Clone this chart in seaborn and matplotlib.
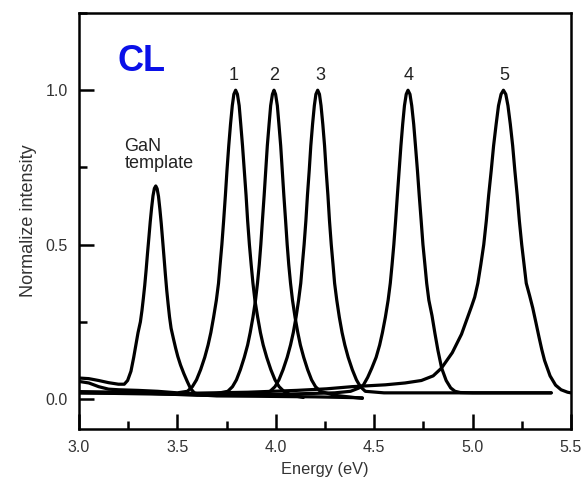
import numpy as np
import pandas as pd
import matplotlib
matplotlib.use("Agg")
import matplotlib.pyplot as plt
from matplotlib.ticker import MultipleLocator, FormatStrFormatter
import seaborn as sns

# ---- data ----
gan_E = [3.00, 3.05, 3.10, 3.15, 3.20, 3.23,
         3.247, 3.264, 3.278, 3.289, 3.300, 3.312, 3.320, 3.327, 3.334, 3.341, 3.348, 3.355, 3.362, 3.369,
         3.376, 3.383, 3.390,
         3.397, 3.404, 3.411, 3.418, 3.425, 3.432, 3.439, 3.446, 3.453, 3.460, 3.468, 3.480, 3.491, 3.502,
         3.516, 3.533, 3.550, 3.566, 3.586, 3.620, 3.700, 3.900, 4.200, 4.440]
gan_I = [0.068, 0.066, 0.060, 0.053, 0.048, 0.048,
         0.060, 0.090, 0.135, 0.175, 0.215, 0.250, 0.287, 0.326, 0.368, 0.417, 0.471, 0.522, 0.574, 0.619,
         0.658, 0.682, 0.690,
         0.681, 0.656, 0.615, 0.568, 0.514, 0.459, 0.403, 0.351, 0.307, 0.266, 0.229, 0.195, 0.165, 0.138,
         0.110, 0.082, 0.057, 0.035, 0.020, 0.013, 0.010, 0.009, 0.007, 0.004]

p1_E = [3.00, 3.05, 3.10, 3.15, 3.20, 3.30, 3.40, 3.50,
        3.551, 3.576, 3.597, 3.618, 3.639, 3.656, 3.670, 3.684, 3.698, 3.709, 3.717, 3.726, 3.735, 3.744,
        3.752, 3.761, 3.770, 3.779, 3.787, 3.796,
        3.805, 3.814, 3.822, 3.831, 3.840, 3.849, 3.857, 3.866, 3.875, 3.884, 3.894, 3.908, 3.922, 3.936,
        3.954, 3.975, 3.996, 4.017, 4.041, 4.080, 4.140]
p1_I = [0.057, 0.052, 0.040, 0.032, 0.030, 0.028, 0.025, 0.020,
        0.025, 0.040, 0.062, 0.095, 0.135, 0.175, 0.215, 0.265, 0.320, 0.375, 0.435, 0.500, 0.577, 0.660,
        0.740, 0.820, 0.890, 0.950, 0.987, 1.000,
        0.987, 0.950, 0.890, 0.820, 0.740, 0.660, 0.577, 0.500, 0.435, 0.375, 0.320, 0.265, 0.215, 0.175,
        0.135, 0.095, 0.062, 0.040, 0.025, 0.012, 0.005]

p2_E = [3.00, 3.20, 3.40, 3.60, 3.70,
        3.756, 3.780, 3.800, 3.820, 3.840, 3.857, 3.870, 3.884, 3.897, 3.907, 3.916, 3.924, 3.932, 3.941,
        3.949, 3.957, 3.966, 3.974, 3.983, 3.991,
        3.999, 4.008, 4.016, 4.025, 4.033, 4.041, 4.050, 4.058, 4.066, 4.075, 4.085, 4.098, 4.112, 4.125,
        4.142, 4.162, 4.182, 4.202, 4.226, 4.300, 4.440]
p2_I = [0.024, 0.022, 0.020, 0.015, 0.018,
        0.025, 0.040, 0.062, 0.095, 0.135, 0.175, 0.215, 0.265, 0.320, 0.375, 0.435, 0.500, 0.577, 0.660,
        0.740, 0.820, 0.890, 0.950, 0.987, 1.000,
        0.987, 0.950, 0.890, 0.820, 0.740, 0.660, 0.577, 0.500, 0.435, 0.375, 0.320, 0.265, 0.215, 0.175,
        0.135, 0.095, 0.062, 0.040, 0.025, 0.012, 0.002]

p3_E = [3.00, 3.30, 3.60, 3.80, 3.90,
        3.971, 3.996, 4.016, 4.037, 4.058, 4.075, 4.089, 4.103, 4.116, 4.127, 4.135, 4.144, 4.153, 4.161,
        4.170, 4.178, 4.187, 4.196, 4.204, 4.213,
        4.222, 4.230, 4.239, 4.248, 4.256, 4.265, 4.273, 4.282, 4.291, 4.299, 4.310, 4.323, 4.337, 4.351,
        4.368, 4.389, 4.410, 4.430, 4.455, 4.550, 4.800, 5.100, 5.400]
p3_I = [0.022, 0.020, 0.012, 0.012, 0.015,
        0.025, 0.040, 0.062, 0.095, 0.135, 0.175, 0.215, 0.265, 0.320, 0.375, 0.435, 0.500, 0.577, 0.660,
        0.740, 0.820, 0.890, 0.950, 0.987, 1.000,
        0.987, 0.950, 0.890, 0.820, 0.740, 0.660, 0.577, 0.500, 0.435, 0.375, 0.320, 0.265, 0.215, 0.175,
        0.135, 0.095, 0.062, 0.040, 0.025, 0.020, 0.020, 0.020, 0.020]

p4_E = [3.00, 3.50, 4.00, 4.30, 4.38,
        4.420, 4.445, 4.467, 4.488, 4.510, 4.528, 4.542, 4.557, 4.571, 4.582, 4.591, 4.600, 4.609, 4.618,
        4.627, 4.636, 4.645, 4.654, 4.663, 4.672,
        4.682, 4.691, 4.701, 4.710, 4.720, 4.729, 4.739, 4.748, 4.758, 4.767, 4.778, 4.794, 4.809, 4.824,
        4.843, 4.866, 4.889, 4.911, 4.938, 5.000, 5.200, 5.400]
p4_I = [0.020, 0.015, 0.015, 0.020, 0.025,
        0.035, 0.045, 0.070, 0.100, 0.135, 0.175, 0.215, 0.265, 0.320, 0.375, 0.435, 0.500, 0.577, 0.660,
        0.740, 0.820, 0.890, 0.950, 0.987, 1.000,
        0.987, 0.950, 0.890, 0.820, 0.740, 0.660, 0.577, 0.500, 0.435, 0.375, 0.320, 0.270, 0.212, 0.158,
        0.100, 0.060, 0.036, 0.025, 0.021, 0.020, 0.020, 0.020]

p5_E = [3.00, 3.50, 3.857, 4.107, 4.257, 4.387, 4.557, 4.657, 4.740, 4.800, 4.842, 4.897, 4.944, 4.978,
        4.995, 5.011, 5.027, 5.042, 5.057, 5.070, 5.082, 5.095, 5.107, 5.120, 5.132, 5.145, 5.157,
        5.169, 5.180, 5.192, 5.204, 5.215, 5.227, 5.238, 5.250, 5.262, 5.273, 5.290, 5.306, 5.322, 5.338,
        5.352, 5.366, 5.394, 5.422, 5.450, 5.483, 5.500]
p5_I = [0.020, 0.018, 0.022, 0.028, 0.033, 0.040, 0.046, 0.052, 0.060, 0.075, 0.100, 0.150, 0.210, 0.270,
        0.300, 0.330, 0.375, 0.435, 0.500, 0.577, 0.660, 0.740, 0.820, 0.890, 0.950, 0.987, 1.000,
        0.987, 0.950, 0.890, 0.820, 0.740, 0.660, 0.577, 0.500, 0.435, 0.375, 0.335, 0.295, 0.248, 0.200,
        0.160, 0.125, 0.075, 0.045, 0.030, 0.022, 0.020]

peak_labels = ["1", "2", "3", "4", "5"]
peak_label_E = [3.786, 3.99, 4.225, 4.673, 5.163]

series = {"GaN": (gan_E, gan_I), "1": (p1_E, p1_I), "2": (p2_E, p2_I),
          "3": (p3_E, p3_I), "4": (p4_E, p4_I), "5": (p5_E, p5_I)}
df = pd.concat([pd.DataFrame({"E": e, "I": i, "s": k}) for k, (e, i) in series.items()],
               ignore_index=True)

sns.set_theme(style="ticks")
plt.rcParams["font.family"] = ["Liberation Sans", "DejaVu Sans"]

fig = plt.figure(figsize=(5.87, 4.82), dpi=100)
ax = fig.add_axes([0.1346, 0.110, 0.838, 0.863])

sns.lineplot(data=df, x="E", y="I", units="s", estimator=None, sort=False,
             color="black", linewidth=2.3, ax=ax)

ax.set_xlim(3.0, 5.5)
ax.set_ylim(-0.097, 1.25)
ax.xaxis.set_major_locator(MultipleLocator(0.5))
ax.xaxis.set_minor_locator(MultipleLocator(0.25))
ax.yaxis.set_major_locator(MultipleLocator(0.5))
ax.yaxis.set_minor_locator(MultipleLocator(0.25))
ax.xaxis.set_major_formatter(FormatStrFormatter("%.1f"))
ax.yaxis.set_major_formatter(FormatStrFormatter("%.1f"))

for side in ["left", "right", "top", "bottom"]:
    ax.spines[side].set_linewidth(1.8)
    ax.spines[side].set_color("black")

ax.tick_params(which="both", direction="in", top=False, right=False, width=1.8, color="black")
ax.tick_params(which="major", length=10.5, labelsize=11.5, labelcolor="#333333", pad=8)
ax.tick_params(which="minor", length=5.5)

ax.set_xlabel("Energy (eV)", fontsize=11.8, color="#333333", labelpad=5)
ax.set_ylabel("Normalize intensity", fontsize=13, color="#333333", labelpad=6)

ax.text(3.197, 1.094, "CL", color="#0a10e8", fontsize=26, fontweight="bold", ha="left", va="center")
for lab, e in zip(peak_labels, peak_label_E):
    ax.text(e, 1.048, lab, fontsize=13, color="#222222", ha="center", va="center")
ax.text(3.23, 0.79, "GaN\ntemplate", fontsize=13, color="#222222", ha="left", va="center",
        linespacing=1.05)

fig.savefig("out.png", dpi=100)
